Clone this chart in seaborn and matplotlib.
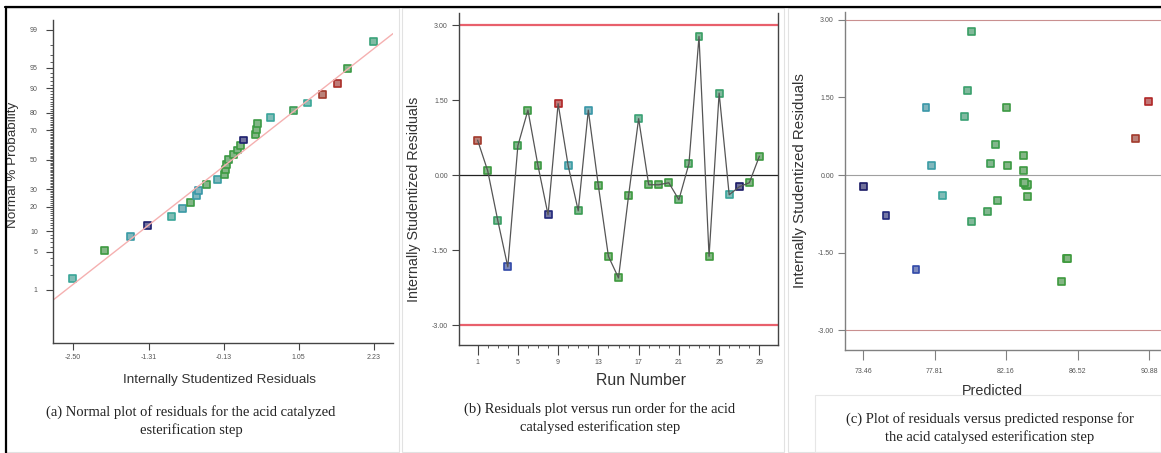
"""
Residual diagnostics for the acid catalysed esterification step
(a) normal plot, (b) residuals vs run, (c) residuals vs predicted
"""
import numpy as np
import matplotlib
matplotlib.use("Agg")
import matplotlib.pyplot as plt
import seaborn as sns
from matplotlib.colors import LinearSegmentedColormap, Normalize
from matplotlib.lines import Line2D
from matplotlib.patches import Rectangle
from statistics import NormalDist

# ---- data ----
# (a) normal probability plot
normal_resid = [-2.50, -2.00, -1.59, -1.33, -0.95, -0.78, -0.65, -0.56, -0.52, -0.40,
                -0.22, -0.12, -0.10, -0.08, -0.06, 0.02, 0.09, 0.13, 0.18, 0.37,
                0.38, 0.40, 0.60, 0.97, 1.18, 1.42, 1.66, 1.82, 2.23]
normal_pct = [1.7, 5.2, 8.6, 12.1, 15.5, 19.0, 22.4, 25.9, 29.3, 32.8,
              36.2, 39.7, 43.1, 46.6, 50.0, 53.4, 56.9, 60.3, 63.8, 67.2,
              70.7, 74.1, 77.6, 81.0, 84.5, 87.9, 91.4, 94.8, 98.3]
normal_hue = [78.5, 84, 77.6, 74, 78.5, 77.5, 82, 77.5, 77.3, 82,
              77.8, 82, 83, 83, 82, 83, 82, 83, 74, 83,
              83, 82, 78.3, 81, 78.6, 90, 90.5, 82, 79.5]
fit_x = [-2.81, 2.53]
fit_pct = [0.6, 98.8]
normal_xticks = [-2.50, -1.31, -0.13, 1.05, 2.23]
prob_ticks = [1, 5, 10, 20, 30, 50, 70, 80, 90, 95, 99]

# (b) residuals by run, (c) residuals vs predicted
runs = list(range(1, 30))
resid = [0.70, 0.09, -0.90, -1.83, 0.59, 1.30, 0.19, -0.79, 1.43, 0.19,
         -0.71, 1.30, -0.21, -1.62, -2.05, -0.41, 1.13, -0.19, -0.19, -0.15,
         -0.49, 0.23, 2.77, -1.62, 1.64, -0.39, -0.23, -0.15, 0.38]
predicted = [90.07, 83.22, 80.03, 76.67, 81.49, 82.16, 82.26, 74.84, 90.84, 77.63,
             81.04, 77.28, 83.40, 85.86, 85.55, 83.48, 79.62, 83.32, 83.48, 83.22,
             81.65, 81.22, 80.03, 85.90, 79.82, 78.30, 73.46, 83.30, 83.22]
run_ticks = [1, 5, 9, 13, 17, 21, 25, 29]
resid_ticks = [-3.0, -1.5, 0.0, 1.5, 3.0]
pred_ticks = [73.46, 77.81, 82.16, 86.52, 90.88]

captions = ["(a) Normal plot of residuals for the acid catalyzed\nesterification step",
            "(b) Residuals plot versus run order for the acid\ncatalysed esterification step",
            "(c) Plot of residuals versus predicted response for\nthe acid catalysed esterification step"]

# ---- style ----
sns.set_style("white")
plt.rcParams['font.family'] = ['Liberation Sans', 'DejaVu Sans']
W, H = 1161, 453
cmap = LinearSegmentedColormap.from_list(
    "de", [(0.0, "#1a1a66"), (0.1, "#232a80"), (0.18, "#3040a8"), (0.22, "#3a98a8"),
           (0.3, "#3aa896"), (0.38, "#3a9e62"), (0.5, "#3c9a42"), (0.78, "#3f9a3c"),
           (0.88, "#8a5a34"), (1.0, "#b02626")])
hnorm = Normalize(73.46, 90.88)
TICK_FS = 5
LAB_COL = "#333333"

nd = NormalDist()
_ppf = np.vectorize(nd.inv_cdf, otypes=[float])
_cdf = np.vectorize(nd.cdf, otypes=[float])


def prob_fwd(p):
    p = np.clip(np.asarray(p, dtype=float) / 100.0, 1e-9, 1 - 1e-9)
    return _ppf(p)


def prob_inv(z):
    return _cdf(np.asarray(z, dtype=float)) * 100.0


def squares(ax):
    """colored outline, paler inside, like the Design-Expert markers"""
    coll = ax.collections[-1]
    fc = coll.get_facecolors()
    coll.set_edgecolors(fc)
    pale = fc.copy()
    pale[:, :3] = pale[:, :3] * 0.55 + 0.45 * 0.85
    coll.set_facecolors(pale)
    coll.set_linewidth(1.2)


def axes_px(l, t, r, b):
    return fig.add_axes([l / W, 1 - b / H, (r - l) / W, (b - t) / H])


fig = plt.figure(figsize=(W / 100, H / 100), dpi=100)

# ---- (a) normal plot ----
ax = axes_px(53, 20, 393, 343)
ax.set_yscale('function', functions=(prob_fwd, prob_inv))
sns.lineplot(x=fit_x, y=fit_pct, color="#f5b0b0", lw=1.0, ax=ax)
sns.scatterplot(x=normal_resid, y=normal_pct, hue=normal_hue, palette=cmap, hue_norm=hnorm,
                marker='s', s=25, legend=False, ax=ax)
squares(ax)
ax.set_xlim(-2.81, 2.53)
ax.set_ylim(0.052, 99.38)
ax.set_xticks(normal_xticks)
ax.set_xticklabels([f"{v:.2f}" for v in normal_xticks])
ax.set_yticks(prob_ticks)
ax.set_yticklabels([str(v) for v in prob_ticks])
ax.set_yticks(list(range(1, 100)), minor=True)
ax.set_xlabel("Internally Studentized Residuals", fontsize=9.7, color=LAB_COL)
ax.set_ylabel("Normal % Probability", fontsize=9.7, color=LAB_COL)
ax.xaxis.set_label_coords(0.49, -0.095)
ax.yaxis.set_label_coords(-0.1, 0.55)
for s in ['top', 'right']:
    ax.spines[s].set_visible(False)

# ---- (b) residuals vs run ----
bx = axes_px(459, 13, 778, 345)
bx.axhline(3.0, color="#e8606c", lw=1.6)
bx.axhline(-3.0, color="#e8606c", lw=1.6)
bx.axhline(0.0, color="#222222", lw=0.9)
sns.lineplot(x=runs, y=resid, color="#555555", lw=0.9, ax=bx)
sns.scatterplot(x=runs, y=resid, hue=predicted, palette=cmap, hue_norm=hnorm,
                marker='s', s=25, legend=False, ax=bx)
squares(bx)
bx.set_xlim(-0.85, 30.85)
bx.set_ylim(-3.39, 3.24)
bx.set_xticks(run_ticks)
bx.set_xticks(runs, minor=True)
bx.set_yticks(resid_ticks)
bx.set_yticklabels([f"{v:.2f}" for v in resid_ticks])
bx.set_xlabel("Run Number", fontsize=11.4, color=LAB_COL)
bx.set_ylabel("Internally Studentized Residuals", fontsize=10.3, color=LAB_COL)
bx.xaxis.set_label_coords(0.57, -0.085)
bx.yaxis.set_label_coords(-0.12, 0.44)
bx.spines['top'].set_visible(False)

# ---- (c) residuals vs predicted ----
cx = axes_px(845, 12, 1161, 350)
cx.axhline(3.0, color="#c99090", lw=0.8)
cx.axhline(-3.0, color="#c99090", lw=0.8)
cx.axhline(0.0, color="#a0a0a0", lw=0.8)
sns.scatterplot(x=predicted, y=resid, hue=predicted, palette=cmap, hue_norm=hnorm,
                marker='s', s=25, legend=False, ax=cx)
squares(cx)
cx.set_xlim(72.34, 91.61)
cx.set_ylim(-3.38, 3.15)
cx.set_xticks(pred_ticks)
cx.set_xticklabels([f"{v:.2f}" for v in pred_ticks])
cx.set_yticks(resid_ticks)
cx.set_yticklabels([f"{v:.2f}" for v in resid_ticks])
cx.set_xlabel("Predicted", fontsize=10.4, color=LAB_COL)
cx.set_ylabel("Internally Studentized Residuals", fontsize=10.8, color=LAB_COL)
cx.xaxis.set_label_coords(0.465, -0.1)
cx.yaxis.set_label_coords(-0.12, 0.5)
for s in ['top', 'right']:
    cx.spines[s].set_visible(False)

for a, col in [(ax, "#444444"), (bx, "#444444"), (cx, "#808080")]:
    for s in a.spines.values():
        s.set_color(col)
        s.set_linewidth(1.0)
    a.tick_params(which='major', direction='out', length=5, width=0.8, colors=col,
                  labelsize=TICK_FS, labelcolor="#555555", left=True, bottom=True, pad=3)
    a.tick_params(which='minor', direction='out', length=2.5, width=0.6, colors=col,
                  left=a is ax, bottom=a is bx)
    a.set_facecolor("white")
ax.tick_params(axis='y', which='major', pad=6)
bx.tick_params(axis='x', which='major', length=7)
cx.tick_params(axis='x', which='major', length=7, pad=6)

# ---- frames and captions ----
for l, r in [(6, 399), (402, 784), (788, 1161)]:
    fig.add_artist(Rectangle((l / W, 1 - 452 / H), (r - l) / W, 444 / H,
                             transform=fig.transFigure, fill=False, ec="#e2e2e2", lw=0.8))
fig.add_artist(Rectangle((815 / W, 1 - 452 / H), 346 / W, 57 / H,
                         transform=fig.transFigure, fill=False, ec="#e6e6e6", lw=0.8))
fig.add_artist(Line2D([5 / W, 1], [1 - 7 / H, 1 - 7 / H], color="black", lw=1.6))
fig.add_artist(Line2D([6 / W, 6 / W], [0, 1 - 7 / H], color="black", lw=1.6))

for (cxp, cyp), txt in zip([(191, 421), (600, 418), (990, 428)], captions):
    fig.text(cxp / W, 1 - cyp / H, txt, ha='center', va='center', fontsize=10.5,
             family=['Liberation Serif', 'DejaVu Serif'], color="#222222", linespacing=1.45)

fig.savefig("out.png", dpi=100)
